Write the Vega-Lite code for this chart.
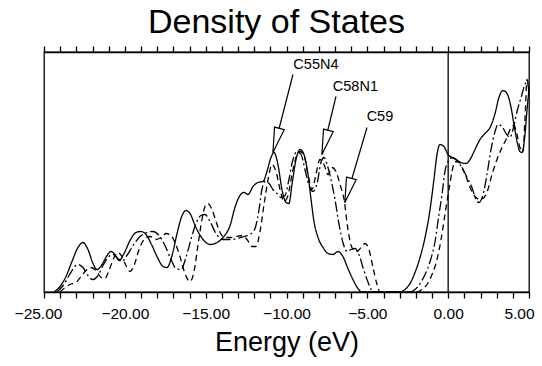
{
  "$schema": "https://vega.github.io/schema/vega-lite/v6.json",
  "width": 485,
  "height": 240,
  "autosize": {"type": "none"},
  "padding": {"left": 44, "top": 52, "right": 13, "bottom": 74},
  "background": "white",
  "title": {"text": "Density of States", "font": "Liberation Sans", "fontSize": 34, "fontWeight": "normal", "color": "black", "anchor": "middle", "baseline": "alphabetic", "offset": 11, "dy": 33, "dx": -10},
  "config": {
    "view": {"stroke": "black", "strokeWidth": 1.3},
    "axis": {"domainColor": "black", "tickColor": "black", "domainWidth": 1.3, "tickWidth": 1.3, "grid": false, "labelColor": "black", "titleColor": "black"}
  },
  "datasets": {
    "dos": [
      {"series": "C55N4", "energy": -24.38, "dos": 0},
      {"series": "C55N4", "energy": -24.01, "dos": 5.5},
      {"series": "C55N4", "energy": -23.64, "dos": 15.5},
      {"series": "C55N4", "energy": -23.27, "dos": 30.5},
      {"series": "C55N4", "energy": -22.90, "dos": 44.5},
      {"series": "C55N4", "energy": -22.59, "dos": 49.5},
      {"series": "C55N4", "energy": -22.28, "dos": 42.5},
      {"series": "C55N4", "energy": -21.97, "dos": 28.5},
      {"series": "C55N4", "energy": -21.72, "dos": 22.5},
      {"series": "C55N4", "energy": -21.41, "dos": 27.5},
      {"series": "C55N4", "energy": -21.10, "dos": 36.5},
      {"series": "C55N4", "energy": -20.86, "dos": 40.5},
      {"series": "C55N4", "energy": -20.61, "dos": 37.5},
      {"series": "C55N4", "energy": -20.36, "dos": 31.5},
      {"series": "C55N4", "energy": -20.05, "dos": 38.5},
      {"series": "C55N4", "energy": -19.68, "dos": 51.5},
      {"series": "C55N4", "energy": -19.31, "dos": 59.5},
      {"series": "C55N4", "energy": -19.00, "dos": 60.5},
      {"series": "C55N4", "energy": -18.69, "dos": 57.5},
      {"series": "C55N4", "energy": -18.32, "dos": 46.5},
      {"series": "C55N4", "energy": -17.95, "dos": 33.5},
      {"series": "C55N4", "energy": -17.64, "dos": 25.5},
      {"series": "C55N4", "energy": -17.39, "dos": 24.5},
      {"series": "C55N4", "energy": -17.08, "dos": 36.5},
      {"series": "C55N4", "energy": -16.77, "dos": 58.5},
      {"series": "C55N4", "energy": -16.46, "dos": 76.5},
      {"series": "C55N4", "energy": -16.22, "dos": 81.5},
      {"series": "C55N4", "energy": -15.97, "dos": 78.5},
      {"series": "C55N4", "energy": -15.60, "dos": 64.5},
      {"series": "C55N4", "energy": -15.16, "dos": 52.5},
      {"series": "C55N4", "energy": -14.73, "dos": 47.5},
      {"series": "C55N4", "energy": -14.30, "dos": 49.5},
      {"series": "C55N4", "energy": -13.87, "dos": 55.5},
      {"series": "C55N4", "energy": -13.49, "dos": 66.5},
      {"series": "C55N4", "energy": -13.19, "dos": 84.5},
      {"series": "C55N4", "energy": -12.88, "dos": 96.5},
      {"series": "C55N4", "energy": -12.63, "dos": 99.5},
      {"series": "C55N4", "energy": -12.38, "dos": 97.5},
      {"series": "C55N4", "energy": -12.07, "dos": 105.5},
      {"series": "C55N4", "energy": -11.76, "dos": 109.5},
      {"series": "C55N4", "energy": -11.45, "dos": 110.5},
      {"series": "C55N4", "energy": -11.21, "dos": 120.5},
      {"series": "C55N4", "energy": -10.96, "dos": 134.5},
      {"series": "C55N4", "energy": -10.77, "dos": 139.5},
      {"series": "C55N4", "energy": -10.53, "dos": 127.5},
      {"series": "C55N4", "energy": -10.28, "dos": 102.5},
      {"series": "C55N4", "energy": -10.03, "dos": 89.5},
      {"series": "C55N4", "energy": -9.85, "dos": 88.5},
      {"series": "C55N4", "energy": -9.66, "dos": 107.5},
      {"series": "C55N4", "energy": -9.41, "dos": 132.5},
      {"series": "C55N4", "energy": -9.16, "dos": 142.5},
      {"series": "C55N4", "energy": -8.92, "dos": 137.5},
      {"series": "C55N4", "energy": -8.67, "dos": 117.5},
      {"series": "C55N4", "energy": -8.48, "dos": 92.5},
      {"series": "C55N4", "energy": -8.30, "dos": 70.5},
      {"series": "C55N4", "energy": -8.05, "dos": 54.5},
      {"series": "C55N4", "energy": -7.74, "dos": 44.5},
      {"series": "C55N4", "energy": -7.43, "dos": 38.5},
      {"series": "C55N4", "energy": -7.12, "dos": 37.5},
      {"series": "C55N4", "energy": -6.81, "dos": 40.5},
      {"series": "C55N4", "energy": -6.51, "dos": 35.5},
      {"series": "C55N4", "energy": -6.20, "dos": 23.5},
      {"series": "C55N4", "energy": -5.89, "dos": 12.5},
      {"series": "C55N4", "energy": -5.58, "dos": 3.5},
      {"series": "C55N4", "energy": -5.33, "dos": 0},
      {"series": "C55N4", "energy": -2.98, "dos": 0},
      {"series": "C55N4", "energy": -2.67, "dos": 2.5},
      {"series": "C55N4", "energy": -2.36, "dos": 8.5},
      {"series": "C55N4", "energy": -2.05, "dos": 19.5},
      {"series": "C55N4", "energy": -1.74, "dos": 34.5},
      {"series": "C55N4", "energy": -1.43, "dos": 54.5},
      {"series": "C55N4", "energy": -1.12, "dos": 82.5},
      {"series": "C55N4", "energy": -0.88, "dos": 112.5},
      {"series": "C55N4", "energy": -0.69, "dos": 137.5},
      {"series": "C55N4", "energy": -0.51, "dos": 147.5},
      {"series": "C55N4", "energy": -0.26, "dos": 145.5},
      {"series": "C55N4", "energy": -0.01, "dos": 137.5},
      {"series": "C55N4", "energy": 0.24, "dos": 134.5},
      {"series": "C55N4", "energy": 0.49, "dos": 132.5},
      {"series": "C55N4", "energy": 0.79, "dos": 129.5},
      {"series": "C55N4", "energy": 1.10, "dos": 128.5},
      {"series": "C55N4", "energy": 1.35, "dos": 132.5},
      {"series": "C55N4", "energy": 1.66, "dos": 142.5},
      {"series": "C55N4", "energy": 1.97, "dos": 152.5},
      {"series": "C55N4", "energy": 2.28, "dos": 158.5},
      {"series": "C55N4", "energy": 2.59, "dos": 164.5},
      {"series": "C55N4", "energy": 2.90, "dos": 178.5},
      {"series": "C55N4", "energy": 3.14, "dos": 194.5},
      {"series": "C55N4", "energy": 3.39, "dos": 201.5},
      {"series": "C55N4", "energy": 3.64, "dos": 198.5},
      {"series": "C55N4", "energy": 3.89, "dos": 184.5},
      {"series": "C55N4", "energy": 4.07, "dos": 167.5},
      {"series": "C55N4", "energy": 4.26, "dos": 150.5},
      {"series": "C55N4", "energy": 4.44, "dos": 140.5},
      {"series": "C55N4", "energy": 4.57, "dos": 139.5},
      {"series": "C55N4", "energy": 4.75, "dos": 157.5},
      {"series": "C55N4", "energy": 4.88, "dos": 182.5},
      {"series": "C55N4", "energy": 5.00, "dos": 202.5},

      {"series": "C58N1", "energy": -24.20, "dos": 0},
      {"series": "C58N1", "energy": -23.82, "dos": 6.5},
      {"series": "C58N1", "energy": -23.45, "dos": 16.5},
      {"series": "C58N1", "energy": -23.14, "dos": 24.5},
      {"series": "C58N1", "energy": -22.90, "dos": 27.5},
      {"series": "C58N1", "energy": -22.59, "dos": 24.5},
      {"series": "C58N1", "energy": -22.28, "dos": 16.5},
      {"series": "C58N1", "energy": -21.97, "dos": 12.5},
      {"series": "C58N1", "energy": -21.66, "dos": 16.5},
      {"series": "C58N1", "energy": -21.35, "dos": 26.5},
      {"series": "C58N1", "energy": -21.04, "dos": 34.5},
      {"series": "C58N1", "energy": -20.73, "dos": 37.5},
      {"series": "C58N1", "energy": -20.42, "dos": 33.5},
      {"series": "C58N1", "energy": -20.18, "dos": 30.5},
      {"series": "C58N1", "energy": -19.87, "dos": 36.5},
      {"series": "C58N1", "energy": -19.49, "dos": 46.5},
      {"series": "C58N1", "energy": -19.06, "dos": 55.5},
      {"series": "C58N1", "energy": -18.63, "dos": 59.5},
      {"series": "C58N1", "energy": -18.26, "dos": 60.5},
      {"series": "C58N1", "energy": -17.89, "dos": 56.5},
      {"series": "C58N1", "energy": -17.52, "dos": 46.5},
      {"series": "C58N1", "energy": -17.14, "dos": 32.5},
      {"series": "C58N1", "energy": -16.84, "dos": 23.5},
      {"series": "C58N1", "energy": -16.53, "dos": 22.5},
      {"series": "C58N1", "energy": -16.22, "dos": 34.5},
      {"series": "C58N1", "energy": -15.91, "dos": 52.5},
      {"series": "C58N1", "energy": -15.60, "dos": 68.5},
      {"series": "C58N1", "energy": -15.29, "dos": 76.5},
      {"series": "C58N1", "energy": -15.04, "dos": 77.5},
      {"series": "C58N1", "energy": -14.73, "dos": 70.5},
      {"series": "C58N1", "energy": -14.36, "dos": 58.5},
      {"series": "C58N1", "energy": -13.93, "dos": 52.5},
      {"series": "C58N1", "energy": -13.49, "dos": 52.5},
      {"series": "C58N1", "energy": -13.06, "dos": 53.5},
      {"series": "C58N1", "energy": -12.63, "dos": 55.5},
      {"series": "C58N1", "energy": -12.26, "dos": 57.5},
      {"series": "C58N1", "energy": -11.95, "dos": 63.5},
      {"series": "C58N1", "energy": -11.70, "dos": 82.5},
      {"series": "C58N1", "energy": -11.52, "dos": 102.5},
      {"series": "C58N1", "energy": -11.33, "dos": 110.5},
      {"series": "C58N1", "energy": -11.08, "dos": 108.5},
      {"series": "C58N1", "energy": -10.84, "dos": 102.5},
      {"series": "C58N1", "energy": -10.59, "dos": 98.5},
      {"series": "C58N1", "energy": -10.34, "dos": 94.5},
      {"series": "C58N1", "energy": -10.09, "dos": 96.5},
      {"series": "C58N1", "energy": -9.85, "dos": 112.5},
      {"series": "C58N1", "energy": -9.60, "dos": 132.5},
      {"series": "C58N1", "energy": -9.35, "dos": 140.5},
      {"series": "C58N1", "energy": -9.10, "dos": 137.5},
      {"series": "C58N1", "energy": -8.86, "dos": 122.5},
      {"series": "C58N1", "energy": -8.61, "dos": 106.5},
      {"series": "C58N1", "energy": -8.36, "dos": 100.5},
      {"series": "C58N1", "energy": -8.11, "dos": 108.5},
      {"series": "C58N1", "energy": -7.87, "dos": 129.5},
      {"series": "C58N1", "energy": -7.68, "dos": 134.5},
      {"series": "C58N1", "energy": -7.49, "dos": 127.5},
      {"series": "C58N1", "energy": -7.25, "dos": 112.5},
      {"series": "C58N1", "energy": -7.00, "dos": 92.5},
      {"series": "C58N1", "energy": -6.75, "dos": 67.5},
      {"series": "C58N1", "energy": -6.51, "dos": 49.5},
      {"series": "C58N1", "energy": -6.26, "dos": 40.5},
      {"series": "C58N1", "energy": -6.01, "dos": 42.5},
      {"series": "C58N1", "energy": -5.76, "dos": 43.5},
      {"series": "C58N1", "energy": -5.52, "dos": 37.5},
      {"series": "C58N1", "energy": -5.27, "dos": 24.5},
      {"series": "C58N1", "energy": -5.02, "dos": 12.5},
      {"series": "C58N1", "energy": -4.77, "dos": 2.5},
      {"series": "C58N1", "energy": -4.65, "dos": 0},
      {"series": "C58N1", "energy": -2.36, "dos": 0},
      {"series": "C58N1", "energy": -2.05, "dos": 2.5},
      {"series": "C58N1", "energy": -1.74, "dos": 8.5},
      {"series": "C58N1", "energy": -1.43, "dos": 17.5},
      {"series": "C58N1", "energy": -1.12, "dos": 30.5},
      {"series": "C58N1", "energy": -0.81, "dos": 50.5},
      {"series": "C58N1", "energy": -0.57, "dos": 77.5},
      {"series": "C58N1", "energy": -0.38, "dos": 97.5},
      {"series": "C58N1", "energy": -0.20, "dos": 120.5},
      {"series": "C58N1", "energy": -0.01, "dos": 130.5},
      {"series": "C58N1", "energy": 0.24, "dos": 134.5},
      {"series": "C58N1", "energy": 0.49, "dos": 132.5},
      {"series": "C58N1", "energy": 0.73, "dos": 127.5},
      {"series": "C58N1", "energy": 0.98, "dos": 120.5},
      {"series": "C58N1", "energy": 1.23, "dos": 112.5},
      {"series": "C58N1", "energy": 1.47, "dos": 104.5},
      {"series": "C58N1", "energy": 1.72, "dos": 92.5},
      {"series": "C58N1", "energy": 1.91, "dos": 89.5},
      {"series": "C58N1", "energy": 2.16, "dos": 97.5},
      {"series": "C58N1", "energy": 2.40, "dos": 117.5},
      {"series": "C58N1", "energy": 2.65, "dos": 142.5},
      {"series": "C58N1", "energy": 2.90, "dos": 160.5},
      {"series": "C58N1", "energy": 3.08, "dos": 167.5},
      {"series": "C58N1", "energy": 3.33, "dos": 165.5},
      {"series": "C58N1", "energy": 3.58, "dos": 158.5},
      {"series": "C58N1", "energy": 3.82, "dos": 154.5},
      {"series": "C58N1", "energy": 4.01, "dos": 162.5},
      {"series": "C58N1", "energy": 4.26, "dos": 180.5},
      {"series": "C58N1", "energy": 4.51, "dos": 194.5},
      {"series": "C58N1", "energy": 4.75, "dos": 207.5},
      {"series": "C58N1", "energy": 4.88, "dos": 210.5},
      {"series": "C58N1", "energy": 5.00, "dos": 200.5},

      {"series": "C59", "energy": -24.01, "dos": 0},
      {"series": "C59", "energy": -23.70, "dos": 4.5},
      {"series": "C59", "energy": -23.39, "dos": 7.5},
      {"series": "C59", "energy": -23.02, "dos": 9.5},
      {"series": "C59", "energy": -22.71, "dos": 15.5},
      {"series": "C59", "energy": -22.40, "dos": 21.5},
      {"series": "C59", "energy": -22.09, "dos": 24.5},
      {"series": "C59", "energy": -21.78, "dos": 21.5},
      {"series": "C59", "energy": -21.47, "dos": 14.5},
      {"series": "C59", "energy": -21.23, "dos": 13.5},
      {"series": "C59", "energy": -20.98, "dos": 21.5},
      {"series": "C59", "energy": -20.67, "dos": 34.5},
      {"series": "C59", "energy": -20.42, "dos": 39.5},
      {"series": "C59", "energy": -20.18, "dos": 35.5},
      {"series": "C59", "energy": -19.93, "dos": 26.5},
      {"series": "C59", "energy": -19.68, "dos": 20.5},
      {"series": "C59", "energy": -19.43, "dos": 26.5},
      {"series": "C59", "energy": -19.12, "dos": 42.5},
      {"series": "C59", "energy": -18.81, "dos": 52.5},
      {"series": "C59", "energy": -18.44, "dos": 55.5},
      {"series": "C59", "energy": -18.07, "dos": 52.5},
      {"series": "C59", "energy": -17.76, "dos": 54.5},
      {"series": "C59", "energy": -17.45, "dos": 58.5},
      {"series": "C59", "energy": -17.14, "dos": 56.5},
      {"series": "C59", "energy": -16.90, "dos": 49.5},
      {"series": "C59", "energy": -16.59, "dos": 35.5},
      {"series": "C59", "energy": -16.28, "dos": 18.5},
      {"series": "C59", "energy": -15.97, "dos": 10.5},
      {"series": "C59", "energy": -15.72, "dos": 20.5},
      {"series": "C59", "energy": -15.47, "dos": 47.5},
      {"series": "C59", "energy": -15.23, "dos": 72.5},
      {"series": "C59", "energy": -15.04, "dos": 85.5},
      {"series": "C59", "energy": -14.86, "dos": 88.5},
      {"series": "C59", "energy": -14.61, "dos": 82.5},
      {"series": "C59", "energy": -14.36, "dos": 70.5},
      {"series": "C59", "energy": -14.11, "dos": 59.5},
      {"series": "C59", "energy": -13.80, "dos": 54.5},
      {"series": "C59", "energy": -13.49, "dos": 54.5},
      {"series": "C59", "energy": -13.12, "dos": 55.5},
      {"series": "C59", "energy": -12.75, "dos": 56.5},
      {"series": "C59", "energy": -12.44, "dos": 52.5},
      {"series": "C59", "energy": -12.13, "dos": 45.5},
      {"series": "C59", "energy": -11.89, "dos": 45.5},
      {"series": "C59", "energy": -11.64, "dos": 60.5},
      {"series": "C59", "energy": -11.39, "dos": 87.5},
      {"series": "C59", "energy": -11.14, "dos": 112.5},
      {"series": "C59", "energy": -10.90, "dos": 127.5},
      {"series": "C59", "energy": -10.65, "dos": 120.5},
      {"series": "C59", "energy": -10.40, "dos": 102.5},
      {"series": "C59", "energy": -10.15, "dos": 90.5},
      {"series": "C59", "energy": -9.91, "dos": 96.5},
      {"series": "C59", "energy": -9.66, "dos": 117.5},
      {"series": "C59", "energy": -9.41, "dos": 134.5},
      {"series": "C59", "energy": -9.16, "dos": 140.5},
      {"series": "C59", "energy": -8.92, "dos": 136.5},
      {"series": "C59", "energy": -8.67, "dos": 117.5},
      {"series": "C59", "energy": -8.42, "dos": 102.5},
      {"series": "C59", "energy": -8.18, "dos": 117.5},
      {"series": "C59", "energy": -7.93, "dos": 132.5},
      {"series": "C59", "energy": -7.68, "dos": 127.5},
      {"series": "C59", "energy": -7.43, "dos": 117.5},
      {"series": "C59", "energy": -7.19, "dos": 124.5},
      {"series": "C59", "energy": -6.94, "dos": 120.5},
      {"series": "C59", "energy": -6.69, "dos": 107.5},
      {"series": "C59", "energy": -6.44, "dos": 92.5},
      {"series": "C59", "energy": -6.20, "dos": 62.5},
      {"series": "C59", "energy": -5.95, "dos": 44.5},
      {"series": "C59", "energy": -5.64, "dos": 40.5},
      {"series": "C59", "energy": -5.39, "dos": 44.5},
      {"series": "C59", "energy": -5.14, "dos": 48.5},
      {"series": "C59", "energy": -4.90, "dos": 42.5},
      {"series": "C59", "energy": -4.65, "dos": 24.5},
      {"series": "C59", "energy": -4.40, "dos": 7.5},
      {"series": "C59", "energy": -4.22, "dos": 0},
      {"series": "C59", "energy": -1.93, "dos": 0},
      {"series": "C59", "energy": -1.62, "dos": 2.5},
      {"series": "C59", "energy": -1.31, "dos": 7.5},
      {"series": "C59", "energy": -1.00, "dos": 17.5},
      {"series": "C59", "energy": -0.69, "dos": 32.5},
      {"series": "C59", "energy": -0.44, "dos": 52.5},
      {"series": "C59", "energy": -0.20, "dos": 77.5},
      {"series": "C59", "energy": 0.05, "dos": 102.5},
      {"series": "C59", "energy": 0.24, "dos": 120.5},
      {"series": "C59", "energy": 0.42, "dos": 130.5},
      {"series": "C59", "energy": 0.67, "dos": 129.5},
      {"series": "C59", "energy": 0.92, "dos": 122.5},
      {"series": "C59", "energy": 1.17, "dos": 112.5},
      {"series": "C59", "energy": 1.41, "dos": 102.5},
      {"series": "C59", "energy": 1.72, "dos": 94.5},
      {"series": "C59", "energy": 1.97, "dos": 92.5},
      {"series": "C59", "energy": 2.22, "dos": 94.5},
      {"series": "C59", "energy": 2.46, "dos": 102.5},
      {"series": "C59", "energy": 2.71, "dos": 117.5},
      {"series": "C59", "energy": 3.02, "dos": 132.5},
      {"series": "C59", "energy": 3.33, "dos": 144.5},
      {"series": "C59", "energy": 3.64, "dos": 154.5},
      {"series": "C59", "energy": 3.89, "dos": 164.5},
      {"series": "C59", "energy": 4.07, "dos": 166.5},
      {"series": "C59", "energy": 4.26, "dos": 157.5},
      {"series": "C59", "energy": 4.44, "dos": 144.5},
      {"series": "C59", "energy": 4.63, "dos": 140.5},
      {"series": "C59", "energy": 4.75, "dos": 172.5},
      {"series": "C59", "energy": 4.88, "dos": 212.5},
      {"series": "C59", "energy": 5.00, "dos": 200.5}
    ],
    "notes": [
      {"label": "C55N4", "x0": -9.60, "y0": 217.5, "x1": -10.84, "y1": 139.5, "lx": -8.18, "ly": 227.5},
      {"label": "C58N1", "x0": -6.94, "y0": 195.5, "x1": -7.81, "y1": 137.5, "lx": -5.74, "ly": 205.5},
      {"label": "C59", "x0": -5.02, "y0": 164.5, "x1": -6.39, "y1": 89.5, "lx": -4.22, "ly": 175.5}
    ],
    "zero": [{"energy": 0}]
  },
  "resolve": {"axis": {"x": "independent"}},
  "layer": [
    {
      "data": {"name": "dos"},
      "mark": {"type": "line", "color": "black", "strokeWidth": 1.3, "interpolate": "monotone", "strokeCap": "butt"},
      "encoding": {
        "x": {"field": "energy", "type": "quantitative", "scale": {"domain": [-25, 5], "nice": false, "zero": false},
          "axis": {"orient": "bottom", "values": [-25,-24,-23,-22,-21,-20,-19,-18,-17,-16,-15,-14,-13,-12,-11,-10,-9,-8,-7,-6,-5,-4,-3,-2,-1,0,1,2,3,4,5],
            "labelExpr": "datum.value % 5 === 0 ? format(datum.value, '.2f') : ''",
            "labelOverlap": false, "labelFlush": false, "tickSize": 6, "labelPadding": 8,
            "labelOffset": {"condition": [{"test": "datum.value <= -25", "value": -6}, {"test": "datum.value >= 5", "value": -10}], "value": 0},
            "labelFont": "Liberation Sans", "labelFontSize": 15.5,
            "title": "Energy (eV)", "titleFont": "Liberation Sans", "titleFontSize": 27, "titleFontWeight": "normal", "titlePadding": 8}},
        "y": {"field": "dos", "type": "quantitative", "scale": {"domain": [0, 240], "nice": false}, "axis": null},
        "detail": {"field": "series"},
        "strokeDash": {"field": "series", "type": "nominal", "scale": {"domain": ["C55N4", "C58N1", "C59"], "range": [[1, 0], [10, 3, 2, 3], [6, 4]]}, "legend": null}
      }
    },
    {
      "data": {"name": "zero"},
      "mark": {"type": "rule", "color": "black", "strokeWidth": 1.3},
      "encoding": {
        "x": {"field": "energy", "type": "quantitative", "axis": null}
      }
    },
    {
      "data": {"name": "notes"},
      "mark": {"type": "rule", "color": "black", "strokeWidth": 1.2},
      "encoding": {
        "x": {"field": "x0", "type": "quantitative", "axis": null},
        "y": {"field": "y0", "type": "quantitative", "axis": null},
        "x2": {"field": "x1"},
        "y2": {"field": "y1"}
      }
    },
    {
      "data": {"name": "notes"},
      "mark": {"type": "point", "shape": "M0,0L-0.4,-2L0.4,-2Z", "size": 625, "angle": 15, "filled": true, "fill": "white", "stroke": "black", "strokeWidth": 1.2, "opacity": 1},
      "encoding": {
        "x": {"field": "x1", "type": "quantitative", "axis": null},
        "y": {"field": "y1", "type": "quantitative", "axis": null}
      }
    },
    {
      "data": {"name": "notes"},
      "mark": {"type": "text", "font": "Liberation Sans", "fontSize": 14.5, "color": "black", "align": "center", "baseline": "middle"},
      "encoding": {
        "x": {"field": "lx", "type": "quantitative",
          "axis": {"orient": "top", "values": [-25,-24,-23,-22,-21,-20,-19,-18,-17,-16,-15,-14,-13,-12,-11,-10,-9,-8,-7,-6,-5,-4,-3,-2,-1,0,1,2,3,4,5], "labels": false, "tickSize": 6, "title": null}},
        "y": {"field": "ly", "type": "quantitative", "axis": null},
        "text": {"field": "label"}
      }
    }
  ]
}
